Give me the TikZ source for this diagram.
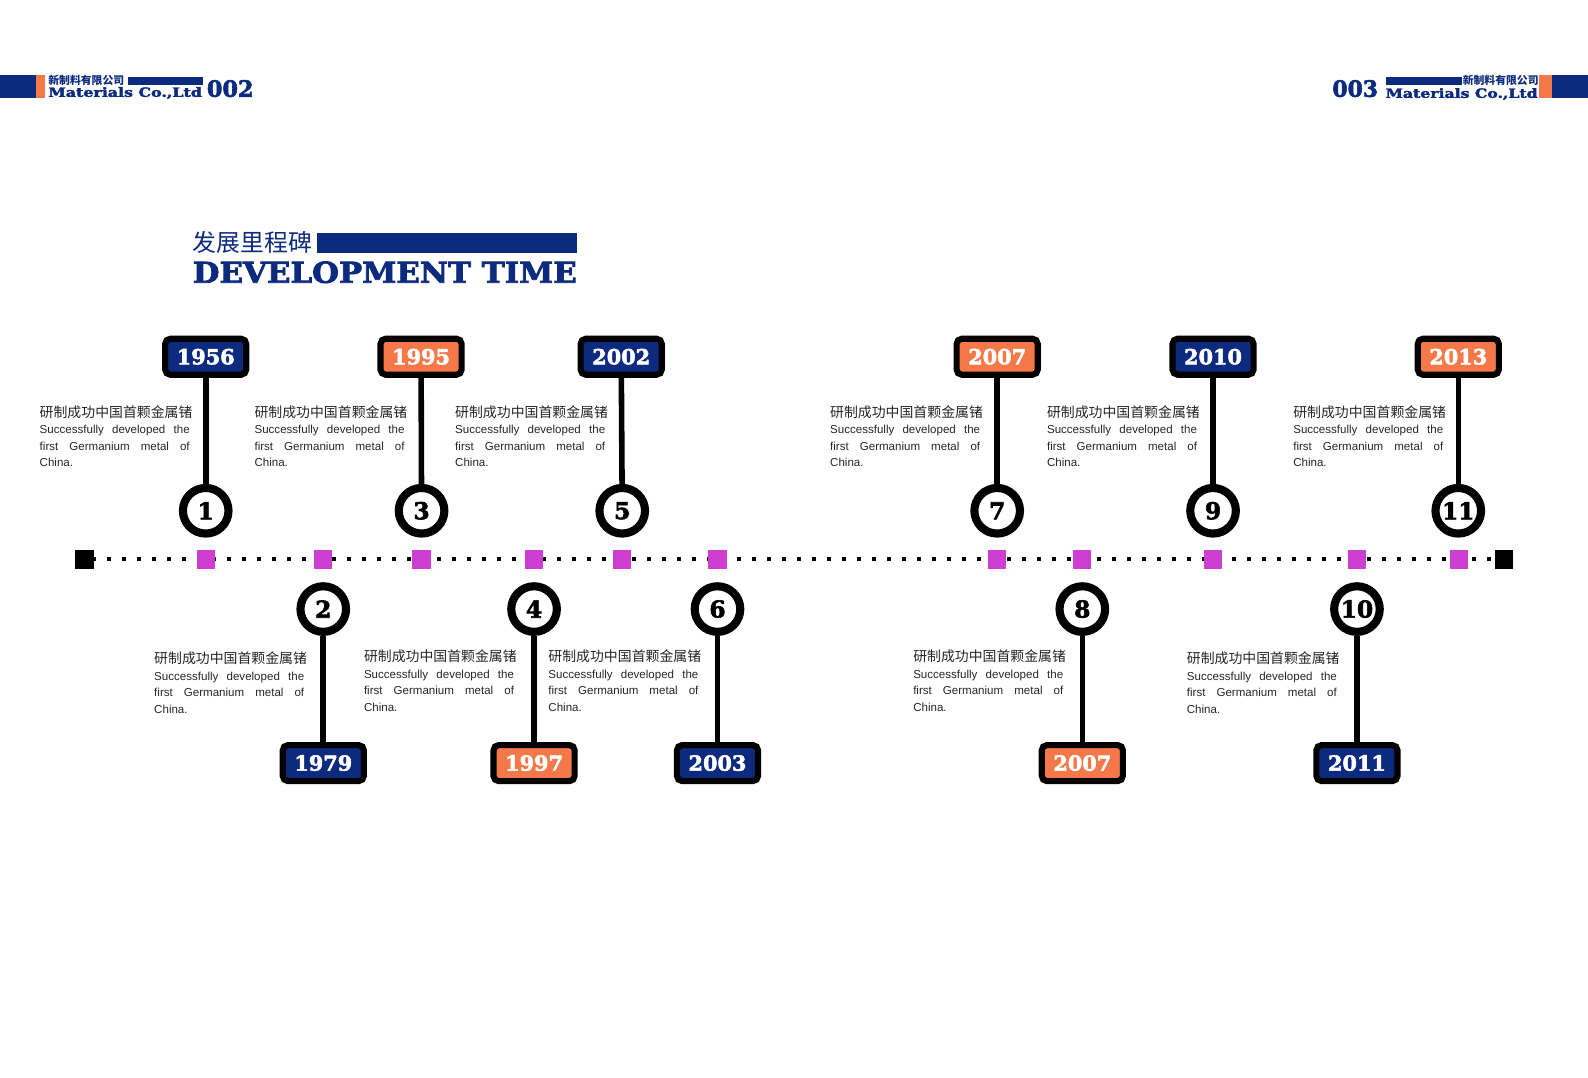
\documentclass[tikz,border=0pt]{standalone}
\usepackage{fontspec}
\setmainfont{Liberation Sans}
\newfontfamily\cjk{Noto Sans CJK SC}
\newfontfamily\heavy{DejaVu Serif}[BoldFeatures={FakeBold=2.5}]
\usepackage{tikz}
\definecolor{navy}{RGB}{12,42,126}
\definecolor{coral}{RGB}{245,121,72}
\definecolor{pinkdot}{RGB}{205,62,210}
\newcommand{\germanium}{{\cjk\fontsize{13.7}{16}\selectfont 研制成功中国首颗金属锗}\\
\makebox[148pt][s]{Successfully developed the}\\
\makebox[148pt][s]{first Germanium metal of}\\
China.}

\begin{document}
\begin{tikzpicture}[x=1pt,y=-1pt]
	\tikzstyle{yearbox}=[draw=black,line width=6pt,rounded corners=5pt,minimum width=80pt,minimum height=35.5pt,inner sep=0pt,text=white,font=\heavy\bfseries\fontsize{20.5}{20}\selectfont]
	\tikzstyle{ring}=[circle,draw=black,fill=white,line width=8pt,minimum size=45pt,inner sep=0pt,font=\heavy\bfseries\fontsize{23}{23}\selectfont]
	\tikzstyle{stem}=[line width=5.5pt]
	\tikzstyle{dotbox}=[fill=pinkdot,minimum size=18pt,inner sep=0pt]
	\tikzstyle{endbox}=[fill=black,minimum size=18.5pt,inner sep=0pt]
	\tikzstyle{desc}=[align=left,inner sep=0pt,anchor=north west,text=black!85,font=\fontsize{11.4}{16.3}\selectfont]
	\useasboundingbox (0,0) rectangle (1567,1063);
	% header left
	\fill[navy] (0,74) rectangle (35.5,96.7);
	\fill[coral] (35.5,74) rectangle (44.5,96.7);
	\fill[navy] (126,76) rectangle (200,84);
	\node[anchor=west,inner sep=0pt,text=navy,font=\cjk\bfseries\fontsize{10.7}{11}\selectfont] (cnl) at (47.5,79.5) {新制料有限公司};
	\node[anchor=base west,inner sep=0pt,text=navy,font=\heavy\bfseries] (enl) at (47.5,95.5) {\resizebox{151.5pt}{9.5pt}{Materials Co.,Ltd}};
	\node[anchor=base west,inner sep=0pt,text=navy,font=\heavy\bfseries] (pgl) at (204,95.5) {\resizebox{46pt}{16.5pt}{002}};
	% header right
	\fill[navy] (1531,74) rectangle (1567,96.7);
	\fill[coral] (1518.5,74) rectangle (1531,96.7);
	\fill[navy] (1367.5,76) rectangle (1442.5,84);
	\node[anchor=east,inner sep=0pt,text=navy,font=\cjk\bfseries\fontsize{10.7}{11}\selectfont] (cnr) at (1518.5,79.5) {新制料有限公司};
	\node[anchor=base east,inner sep=0pt,text=navy,font=\heavy\bfseries] (enr) at (1517.5,96.5) {\resizebox{150pt}{9.5pt}{Materials Co.,Ltd}};
	\node[anchor=base east,inner sep=0pt,text=navy,font=\heavy\bfseries] (pgr) at (1360,95.5) {\resizebox{45pt}{16.5pt}{003}};
	% title
	\node[anchor=west,inner sep=0pt,text=navy,font=\cjk\fontsize{23.5}{24}\selectfont] (cnt) at (190,239.5) {发展里程碑};
	\fill[navy] (312.6,230) rectangle (569,249.6);
	\node[anchor=base west,inner sep=0pt,text=navy,font=\heavy\bfseries] (ent) at (190,279) {\resizebox{379pt}{21pt}{DEVELOPMENT TIME}};
	% timeline
	\node[endbox] (ls) at (83.4,552) {};
	\node[endbox] (rs) at (1484,552) {};
	\draw[dash pattern=on 4pt off 10.8pt,dash phase=2.2pt,line width=4pt] (ls.east) -- (rs.west);
	\node[dotbox] (m1) at (203,552) {};
	\node[dotbox] (m2) at (319,552) {};
	\node[dotbox] (m3) at (416,552) {};
	\node[dotbox] (m4) at (527,552) {};
	\node[dotbox] (m5) at (614,552) {};
	\node[dotbox] (m6) at (708,552) {};
	\node[dotbox] (m7) at (984,552) {};
	\node[dotbox] (m8) at (1068,552) {};
	\node[dotbox] (m9) at (1197,552) {};
	\node[dotbox] (m10) at (1339,552) {};
	\node[dotbox] (m11) at (1440,552) {};
	% milestones above
	\node[yearbox,fill=navy] (y1) at (203,352) {1956};
	\node[ring] (c1) at (203,504) {1};
	\draw[stem] (y1) -- (c1);
	\node[desc] (t1) at (39,400) {\germanium};
	\node[yearbox,fill=coral] (y3) at (415.5,352) {1995};
	\node[ring] (c3) at (416,504) {3};
	\draw[stem] (y3) -- (c3);
	\node[desc] (t3) at (251,400) {\germanium};
	\node[yearbox,fill=navy] (y5) at (613,352) {2002};
	\node[ring] (c5) at (614,504) {5};
	\draw[stem] (y5) -- (c5);
	\node[desc] (t5) at (449,400) {\germanium};
	\node[yearbox,fill=coral] (y7) at (984,352) {2007};
	\node[ring] (c7) at (984,504) {7};
	\draw[stem] (y7) -- (c7);
	\node[desc] (t7) at (819,400) {\germanium};
	\node[yearbox,fill=navy] (y9) at (1197,352) {2010};
	\node[ring] (c9) at (1197,504) {9};
	\draw[stem] (y9) -- (c9);
	\node[desc] (t9) at (1033,400) {\germanium};
	\node[yearbox,fill=coral] (y11) at (1439,352) {2013};
	\node[ring] (c11) at (1439,504) {11};
	\draw[stem] (y11) -- (c11);
	\node[desc] (t11) at (1276,400) {\germanium};
	% milestones below
	\node[ring] (c2) at (319,601) {2};
	\node[yearbox,fill=navy] (y2) at (319,753) {1979};
	\draw[stem] (c2) -- (y2);
	\node[desc] (t2) at (152,643) {\germanium};
	\node[ring] (c4) at (527,601) {4};
	\node[yearbox,fill=coral] (y4) at (527,753) {1997};
	\draw[stem] (c4) -- (y4);
	\node[desc] (t4) at (359,641) {\germanium};
	\node[ring] (c6) at (708,601) {6};
	\node[yearbox,fill=navy] (y6) at (708,753) {2003};
	\draw[stem] (c6) -- (y6);
	\node[desc] (t6) at (541,641) {\germanium};
	\node[ring] (c8) at (1068,601) {8};
	\node[yearbox,fill=coral] (y8) at (1068,753) {2007};
	\draw[stem] (c8) -- (y8);
	\node[desc] (t8) at (901,641) {\germanium};
	\node[ring] (c10) at (1339,601) {10};
	\node[yearbox,fill=navy] (y10) at (1339,753) {2011};
	\draw[stem] (c10) -- (y10);
	\node[desc] (t10) at (1171,643) {\germanium};
\end{tikzpicture}
\end{document}
